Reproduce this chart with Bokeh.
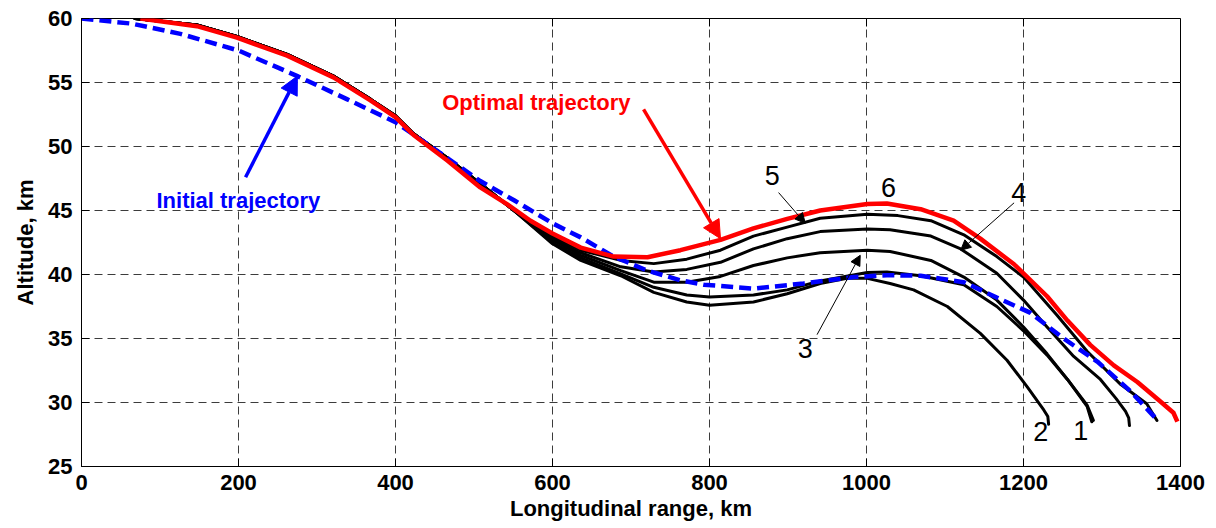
import math
from bokeh.plotting import figure
from bokeh.models import Range1d, FixedTicker, Arrow, NormalHead, Label
from bokeh.core.properties import value
from bokeh.embed import file_html
from bokeh.resources import INLINE

# ---------------- data ----------------
x_ticks = [0, 200, 400, 600, 800, 1000, 1200, 1400]
y_ticks = [25, 30, 35, 40, 45, 50, 55, 60]

# optimal trajectory (red)
opt_x = [75, 147, 198, 262, 321, 368, 400, 423, 466, 508, 542, 572, 600, 636, 678, 721, 763,
         814, 856, 899, 941, 1001, 1026, 1069, 1111, 1145, 1188, 1230, 1256, 1285, 1315, 1345,
         1374, 1391, 1396]
opt_y = [60.0, 59.4, 58.5, 57.1, 55.4, 53.6, 52.3, 50.9, 48.9, 46.8, 45.5, 44.2, 43.2, 42.1,
         41.4, 41.35, 41.9, 42.7, 43.6, 44.35, 45.0, 45.5, 45.55, 45.1, 44.2, 42.8, 40.8, 38.3,
         36.4, 34.5, 32.9, 31.6, 30.1, 29.2, 28.5]

# initial trajectory (blue dashed)
init_x = [0, 64, 126, 200, 275, 338, 400, 419, 466, 508, 551, 600, 636, 678, 721, 763, 793,
          856, 920, 984, 1026, 1069, 1124, 1166, 1209, 1251, 1294, 1336, 1368]
init_y = [60.0, 59.6, 58.8, 57.5, 55.5, 53.7, 51.9, 51.1, 49.1, 47.3, 45.8, 44.0, 42.9, 41.4,
          40.3, 39.55, 39.2, 38.9, 39.3, 39.8, 39.95, 39.9, 39.4, 38.2, 37.0, 35.0, 33.2, 30.9,
          28.8]

# black trajectories 1..5
c5_x = [68, 147, 198, 262, 321, 368, 400, 423, 466, 508, 551, 600, 636, 687, 729, 771, 814,
        856, 899, 941, 1001, 1040, 1082, 1124, 1166, 1200, 1243, 1281, 1324, 1357, 1370]
c5_y = [60.0, 59.5, 58.6, 57.2, 55.5, 53.7, 52.4, 51.0, 49.1, 47.1, 45.0, 43.0, 41.9, 41.1,
        40.85, 41.2, 41.9, 43.0, 43.7, 44.4, 44.7, 44.6, 44.2, 43.1, 41.4, 39.8, 36.8, 34.0,
        31.4, 29.9, 28.6]

c4_x = [68, 147, 198, 262, 321, 368, 400, 423, 466, 508, 551, 600, 636, 687, 729, 771, 814,
        856, 899, 941, 1001, 1030, 1082, 1120, 1166, 1200, 1230, 1264, 1298, 1318, 1330, 1334,
        1335]
c4_y = [60.0, 59.5, 58.6, 57.2, 55.5, 53.7, 52.4, 51.0, 49.1, 47.1, 45.0, 42.8, 41.7, 40.6,
        40.2, 40.4, 40.95, 42.0, 42.8, 43.35, 43.55, 43.5, 43.0, 42.0, 40.1, 38.0, 35.9, 33.6,
        31.8, 30.3, 29.3, 28.8, 28.2]

c3_x = [68, 147, 198, 262, 321, 368, 400, 423, 466, 508, 551, 600, 636, 687, 729, 771, 814,
        856, 899, 941, 1001, 1030, 1082, 1124, 1166, 1200, 1230, 1256, 1281, 1287]
c3_y = [60.0, 59.5, 58.6, 57.2, 55.5, 53.7, 52.4, 51.0, 49.1, 47.1, 45.0, 42.7, 41.5, 40.3,
        39.4, 39.4, 39.85, 40.7, 41.3, 41.7, 41.9, 41.8, 41.1, 39.8, 38.0, 35.9, 33.8, 31.8,
        29.7, 28.5]

c1_x = [68, 147, 198, 262, 321, 368, 400, 423, 466, 508, 551, 600, 636, 687, 729, 771, 800,
        856, 899, 941, 1001, 1026, 1069, 1124, 1166, 1200, 1230, 1256, 1281, 1289]
c1_y = [60.0, 59.5, 58.6, 57.2, 55.5, 53.7, 52.4, 51.0, 49.1, 47.1, 45.0, 42.5, 41.3, 40.05,
        39.0, 38.4, 38.25, 38.4, 38.8, 39.5, 40.15, 40.2, 39.9, 39.2, 37.5, 35.6, 33.7, 31.8,
        29.8, 28.6]

c2_x = [68, 147, 198, 262, 321, 368, 400, 423, 466, 508, 551, 600, 636, 687, 729, 771, 800,
        856, 899, 941, 975, 1001, 1030, 1060, 1103, 1145, 1179, 1205, 1226, 1231, 1232]
c2_y = [60.0, 59.5, 58.6, 57.2, 55.5, 53.7, 52.4, 51.0, 49.1, 47.1, 45.0, 42.4, 41.1, 39.9,
        38.6, 37.85, 37.6, 37.85, 38.5, 39.3, 39.7, 39.7, 39.3, 38.8, 37.5, 35.4, 33.3, 31.2,
        29.4, 28.9, 28.3]

num_text = ["5", "6", "4", "3", "2", "1"]

# ---------------- figure ----------------
FONT = "Liberation Sans"

p = figure(width=1216, height=528, x_range=Range1d(0, 1400), y_range=Range1d(25, 60),
           output_backend="svg", toolbar_location=None,
           min_border_left=81, min_border_right=36, min_border_top=18, min_border_bottom=62,
           x_axis_label="Longitudinal range, km", y_axis_label="Altitude, km")
p.background_fill_color = "white"
p.border_fill_color = "white"
p.outline_line_color = "black"
p.outline_line_width = 1

p.xaxis.ticker = FixedTicker(ticks=x_ticks)
p.yaxis.ticker = FixedTicker(ticks=y_ticks)

for ax in [p.xaxis[0], p.yaxis[0]]:
    ax.axis_line_color = "black"
    ax.axis_line_width = 1
    ax.major_tick_in = 8
    ax.major_tick_out = 0
    ax.minor_tick_in = 0
    ax.minor_tick_out = 0
    ax.major_tick_line_color = "black"
    ax.major_label_text_font = FONT
    ax.major_label_text_font_size = "22px"
    ax.major_label_text_font_style = "bold"
    ax.major_label_text_color = "black"
    ax.axis_label_text_font = FONT
    ax.axis_label_text_font_size = "22px"
    ax.axis_label_text_font_style = "bold"
    ax.axis_label_text_color = "black"

p.xaxis.major_label_standoff = 8
p.xaxis.axis_label_standoff = 3
p.yaxis.major_label_standoff = 9
p.yaxis.axis_label_standoff = 7

for g in [p.xgrid[0], p.ygrid[0]]:
    g.grid_line_color = "#3c3c3c"
    g.grid_line_dash = "8 5"
    g.grid_line_width = 1

# inward ticks on the right and top edges of the box
p.ray(x=[x_ticks[-1]] * len(y_ticks), y=y_ticks, length=8, length_units="screen",
      angle=math.pi, line_color="black", line_width=1)
p.ray(x=x_ticks, y=[y_ticks[-1]] * len(x_ticks), length=8, length_units="screen",
      angle=-math.pi / 2, line_color="black", line_width=1)

# curves
for cx, cy in [(c5_x, c5_y), (c4_x, c4_y), (c3_x, c3_y), (c1_x, c1_y), (c2_x, c2_y)]:
    p.line(cx, cy, line_color="black", line_width=3, line_join="round", line_cap="round")

p.line(init_x, init_y, line_color="#0000ff", line_width=4.5, line_dash="12 6")
p.line(opt_x, opt_y, line_color="#ff0000", line_width=4.5, line_join="round")

# annotations
p.add_layout(Label(x=459.5, y=53.4, text="Optimal trajectory", text_color="#ff0000",
                   text_font=FONT, text_font_size="22px", text_font_style="bold",
                   text_baseline="alphabetic", text_align="left"))
p.add_layout(Label(x=95.5, y=45.8, text="Initial trajectory", text_color="#0000ff",
                   text_font=FONT, text_font_size="22px", text_font_style="bold",
                   text_baseline="alphabetic", text_align="left"))

p.add_layout(Arrow(end=NormalHead(size=18, fill_color="#ff0000", line_color="#ff0000"),
                   x_start=716, y_start=52.9, x_end=814, y_end=42.8,
                   line_color="#ff0000", line_width=3.5))
p.add_layout(Arrow(end=NormalHead(size=18, fill_color="#0000ff", line_color="#0000ff"),
                   x_start=209, y_start=47.6, x_end=275, y_end=55.5,
                   line_color="#0000ff", line_width=3.5))

for xs, ys, xe, ye in [(888, 46.4, 922, 44.0), (1188, 45.6, 1120, 41.9), (937, 35.3, 992, 41.5)]:
    p.add_layout(Arrow(end=NormalHead(size=10, fill_color="black", line_color="black"),
                       x_start=xs, y_start=ys, x_end=xe, y_end=ye,
                       line_color="black", line_width=1))

num_x = [880, 1028, 1194, 922, 1222, 1273]
num_y = [47.7, 46.8, 46.4, 34.2, 27.7, 27.8]
p.text(x=num_x, y=num_y, text=num_text, text_font=value(FONT), text_font_size="27px",
       text_align="center", text_baseline="middle", text_color="black")

open("out.html", "w").write(file_html(p, INLINE))
